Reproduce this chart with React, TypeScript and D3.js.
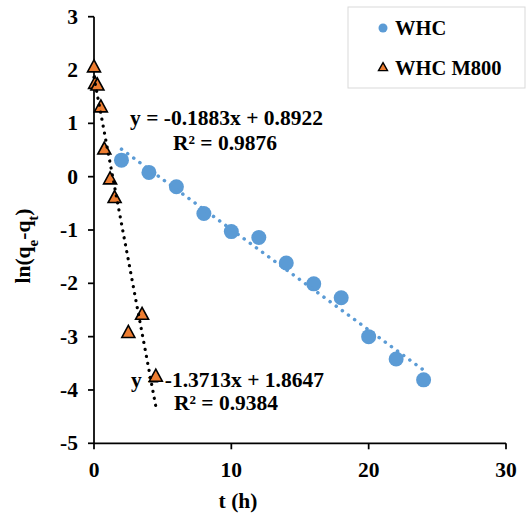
import React from "react";
import * as d3 from "d3";

const whcT = [2, 4, 6, 8, 10, 12, 14, 16, 18, 20, 22, 24];
const whcY = [0.31, 0.08, -0.19, -0.69, -1.03, -1.14, -1.62, -2.01, -2.27, -3.0, -3.42, -3.81];
const m800T = [0, 0.08, 0.25, 0.5, 0.75, 1.17, 1.5, 2.5, 3.5, 4.5];
const m800Y = [2.04, 1.73, 1.7, 1.29, 0.5, -0.06, -0.41, -2.94, -2.6, -3.76];
const xTicks = [0, 10, 20, 30];
const yTicks = [-5, -4, -3, -2, -1, 0, 1, 2, 3];
const seriesNames = ["WHC", "WHC M800"];
const fitSlopes = [-0.1883, -1.3713];
const fitIntercepts = [0.8922, 1.8647];
const fitFrom = [2, 0];
const fitTo = [24, 4.5];
const fitLabels = ["y = -0.1883x + 0.8922", "y = -1.3713x + 1.8647"];
const r2Labels = ["R² = 0.9876", "R² = 0.9384"];

const FONT = "Liberation Serif";
const BLUE = "#5B9BD5";
const ORANGE = "#ED7D31";

function tri(cx: number, cy: number, w: number, h: number) {
  return `M${cx},${cy - (h * 2) / 3}L${cx + w / 2},${cy + h / 3}L${cx - w / 2},${cy + h / 3}Z`;
}

export default function App() {
  const x = d3.scaleLinear().domain([0, 30]).range([94, 506]);
  const y = d3.scaleLinear().domain([-5, 3]).range([443.3, 16.7]);
  const line = d3
    .line<number>()
    .x((d) => x(d[0]))
    .y((d) => y(d[1]));
  const fitPath = (i: number) =>
    line([
      [fitFrom[i], fitSlopes[i] * fitFrom[i] + fitIntercepts[i]],
      [fitTo[i], fitSlopes[i] * fitTo[i] + fitIntercepts[i]],
    ] as any);
  const textStyle = { fontFamily: FONT, fontWeight: 700, fontSize: 21.5, fill: "#000" } as const;
  const legendStyle = { ...textStyle, fontSize: 20.5 };

  return (
    <svg
      width={529}
      height={522}
      style={{ position: "absolute", left: 0, top: 0, background: "#fff" }}
    >
      <rect x={0} y={0} width={529} height={522} fill="#fff" />
      {/* axes */}
      <line x1={x(0)} x2={x(0)} y1={y(3)} y2={y(-5)} stroke="#000" strokeWidth={1.75} />
      <line x1={x(0)} x2={x(30)} y1={y(-5)} y2={y(-5)} stroke="#000" strokeWidth={1.75} />
      {yTicks.map((t) => (
        <g key={"y" + t}>
          <line x1={x(0) - 6} x2={x(0)} y1={y(t)} y2={y(t)} stroke="#000" strokeWidth={1.75} />
          <text x={78} y={y(t) + 7} textAnchor="end" style={textStyle}>
            {t}
          </text>
        </g>
      ))}
      {xTicks.map((t) => (
        <g key={"x" + t}>
          <line x1={x(t)} x2={x(t)} y1={y(-5)} y2={y(-5) + 6} stroke="#000" strokeWidth={1.75} />
          <text x={x(t)} y={477} textAnchor="middle" style={textStyle}>
            {t}
          </text>
        </g>
      ))}
      <text x={238} y={508} textAnchor="middle" style={textStyle}>
        t (h)
      </text>
      <text transform="translate(30,246) rotate(-90)" textAnchor="middle" style={textStyle}>
        ln(q<tspan baselineShift="sub" fontSize={15}>e</tspan>-q
        <tspan baselineShift="sub" fontSize={15}>t</tspan>)
      </text>

      {/* fit labels */}
      <text x={130} y={125} style={textStyle}>{fitLabels[0]}</text>
      <text x={173} y={150} style={textStyle}>{r2Labels[0]}</text>
      <text x={131} y={387} style={textStyle}>{fitLabels[1]}</text>
      <text x={174} y={410} style={textStyle}>{r2Labels[1]}</text>

      {/* markers */}
      {whcT.map((t, i) => (
        <circle key={"c" + i} cx={x(t)} cy={y(whcY[i])} r={7.5} fill={BLUE} />
      ))}
      {m800T.map((t, i) => (
        <path
          key={"t" + i}
          d={tri(x(t), y(m800Y[i]), 13, 12)}
          fill={ORANGE}
          stroke="#000"
          strokeWidth={1.6}
          strokeLinejoin="miter"
        />
      ))}

      {/* trendlines */}
      <path
        d={fitPath(0) || ""}
        stroke={BLUE}
        strokeWidth={3.5}
        strokeDasharray="0.1 7.5"
        strokeLinecap="round"
        fill="none"
      />
      <path
        d={fitPath(1) || ""}
        stroke="#000"
        strokeWidth={3.2}
        strokeDasharray="0.1 7"
        strokeLinecap="round"
        fill="none"
      />

      {/* legend */}
      <rect x={348} y={7} width={177} height={81} fill="#fff" stroke="#d9d9d9" strokeWidth={1} />
      <circle cx={383} cy={28} r={4.5} fill={BLUE} />
      <text x={395} y={35} style={legendStyle}>{seriesNames[0]}</text>
      <path d={tri(383, 68, 9, 8)} fill={ORANGE} stroke="#000" strokeWidth={1.4} />
      <text x={395} y={75} style={legendStyle}>{seriesNames[1]}</text>
    </svg>
  );
}
